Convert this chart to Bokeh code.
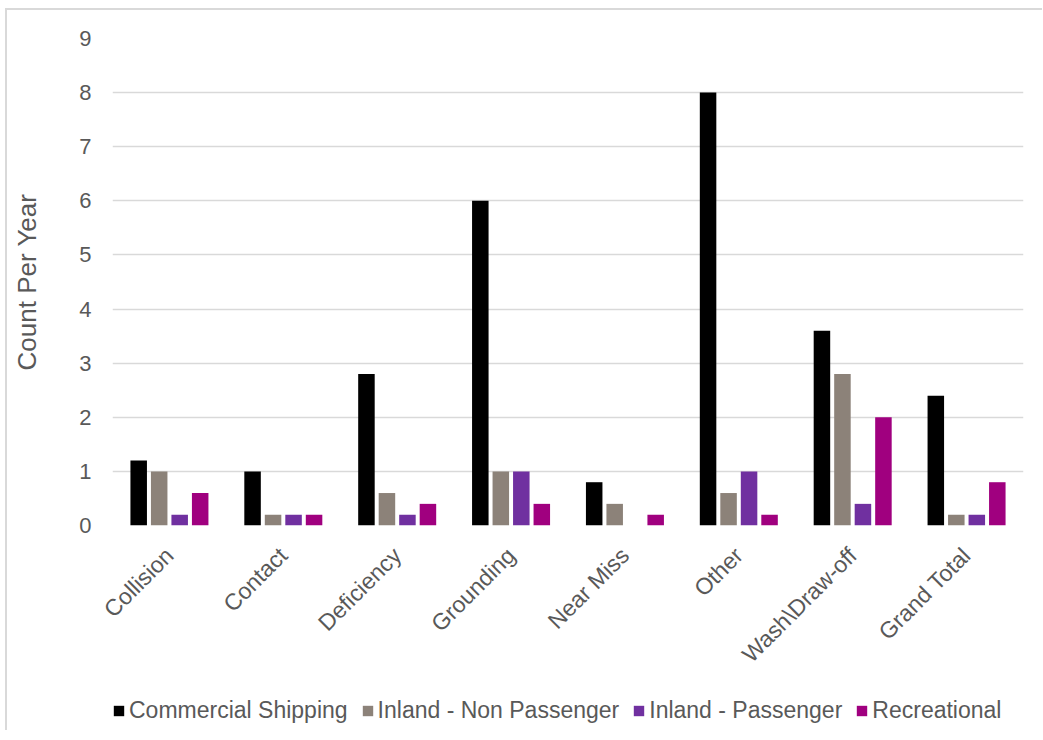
import math
from bokeh.plotting import figure
from bokeh.layouts import column
from bokeh.models import ColumnDataSource, FactorRange, Legend, LegendItem
from bokeh.transform import dodge
from bokeh.embed import file_html
from bokeh.resources import INLINE

categories = ["Collision", "Contact", "Deficiency", "Grounding", "Near Miss",
              "Other", "Wash\\Draw-off", "Grand Total"]
series_names = ["Commercial Shipping", "Inland - Non Passenger",
                "Inland - Passenger", "Recreational"]
commercial_shipping = [1.2, 1.0, 2.8, 6.0, 0.8, 8.0, 3.6, 2.4]
inland_non_passenger = [1.0, 0.2, 0.6, 1.0, 0.4, 0.6, 2.8, 0.2]
inland_passenger = [0.2, 0.2, 0.2, 1.0, 0.0, 1.0, 0.4, 0.2]
recreational = [0.6, 0.2, 0.4, 0.4, 0.2, 0.2, 2.0, 0.8]
y_ticks = [0, 1, 2, 3, 4, 5, 6, 7, 8, 9]

colors = ["#000000", "#8C8279", "#7030A0", "#A0007F"]
keys = ["cs", "inp", "ip", "rec"]

source = ColumnDataSource(data=dict(
    cat=categories, cs=commercial_shipping, inp=inland_non_passenger,
    ip=inland_passenger, rec=recreational))

FONT = "Liberation Sans"
TXT = "#595959"

p = figure(x_range=FactorRange(*categories), y_range=(0, 9),
           width=1035, height=680, output_backend="svg",
           toolbar_location=None, min_border_left=105, min_border_right=19,
           min_border_top=28, min_border_bottom=165)
p.outline_line_color = None
p.x_range.range_padding = 0.0

offsets = [-0.27, -0.09, 0.09, 0.27]
for k, off, c in zip(keys, offsets, colors):
    p.vbar(x=dodge("cat", off, range=p.x_range), top=k, width=0.145,
           source=source, fill_color=c, line_color=None)

p.yaxis.ticker = y_ticks
p.xgrid.grid_line_color = None
p.ygrid.grid_line_color = "#D9D9D9"
p.ygrid.grid_line_width = 1.3
p.axis.axis_line_color = None
p.axis.major_tick_line_color = None
p.axis.major_tick_out = 0
p.axis.major_tick_in = 0
p.axis.minor_tick_line_color = None
p.axis.major_label_text_font = FONT
p.axis.major_label_text_color = TXT
p.yaxis.major_label_text_font_size = "22px"
p.xaxis.major_label_text_font_size = "23px"
p.xaxis.major_label_orientation = math.pi / 4
p.yaxis.major_label_standoff = 21
p.xaxis.major_label_standoff = 26
p.yaxis.axis_label = "Count Per Year"
p.yaxis.axis_label_text_font = FONT
p.yaxis.axis_label_text_font_style = "normal"
p.yaxis.axis_label_text_font_size = "26px"
p.yaxis.axis_label_text_color = TXT
p.yaxis.axis_label_standoff = 34

# Legend strip below the chart: hidden copies of the series feed the legend
pl = figure(x_range=p.x_range, y_range=(-3, -2), width=1035, height=40,
            output_backend="svg", toolbar_location=None,
            x_axis_location=None, y_axis_location=None,
            min_border_left=0, min_border_right=0, min_border_top=0,
            min_border_bottom=0)
pl.outline_line_color = None
pl.grid.visible = False
items = []
for k, off, c, name in zip(keys, offsets, colors, series_names):
    r = pl.vbar(x=dodge("cat", off, range=p.x_range), top=k, width=0.145,
                source=source, fill_color=c, line_color=None, visible=False)
    items.append(LegendItem(label=name, renderers=[r]))

legend = Legend(items=items, orientation="horizontal", location=(0, 6),
                label_text_font=FONT, label_text_font_size="23px",
                label_text_color=TXT, glyph_width=13, glyph_height=13,
                spacing=13, label_standoff=4, padding=0, margin=0,
                inactive_fill_alpha=0.0,
                border_line_color=None, background_fill_alpha=0)
pl.add_layout(legend, "center")

layout = column(p, pl, spacing=0)
layout.styles = {"border-left": "2px solid #D9D9D9", "border-top": "2px solid #D9D9D9",
                 "margin-left": "5px", "margin-top": "8px"}

open("out.html", "w").write(file_html(layout, INLINE))
